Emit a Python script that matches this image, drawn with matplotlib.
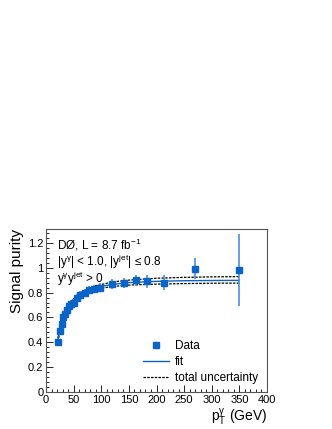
import matplotlib
matplotlib.use('Agg')
import matplotlib.pyplot as plt
from matplotlib.ticker import MultipleLocator, FuncFormatter
from matplotlib.lines import Line2D

plt.rcParams['font.family'] = ['Liberation Sans', 'DejaVu Sans']
plt.rcParams['mathtext.fontset'] = 'custom'
plt.rcParams['mathtext.rm'] = 'Liberation Sans'
plt.rcParams['mathtext.it'] = 'Liberation Sans'

# measured purity
pt = [22, 25, 28, 31, 34, 37, 41, 45, 50, 55, 62, 70, 78, 86, 98, 120, 141, 162, 183, 213, 270, 349]
purity = [0.40, 0.49, 0.55, 0.60, 0.63, 0.66, 0.69, 0.71, 0.72, 0.76, 0.78, 0.80, 0.82, 0.83, 0.84,
          0.87, 0.88, 0.90, 0.89, 0.88, 0.99, 0.98]
err = [0.03, 0.03, 0.03, 0.03, 0.03, 0.03, 0.03, 0.03, 0.03, 0.03, 0.03, 0.03, 0.03, 0.03, 0.035,
       0.04, 0.04, 0.045, 0.05, 0.06, 0.085, 0.29]

# fit and its uncertainty band
fit_x = [20, 23, 26, 30, 35, 40, 45, 50, 60, 70, 80, 90, 100, 120, 150, 200, 250, 300, 350]
fit_y = [0.39, 0.46, 0.52, 0.57, 0.63, 0.67, 0.705, 0.735, 0.775, 0.805, 0.825, 0.84, 0.85,
         0.865, 0.88, 0.89, 0.895, 0.897, 0.898]
fit_hi = [0.405, 0.475, 0.535, 0.585, 0.645, 0.685, 0.72, 0.75, 0.79, 0.82, 0.84, 0.855, 0.865,
          0.885, 0.9, 0.915, 0.922, 0.926, 0.928]
fit_lo = [0.375, 0.445, 0.505, 0.555, 0.615, 0.655, 0.69, 0.72, 0.76, 0.79, 0.81, 0.825, 0.835,
          0.848, 0.86, 0.868, 0.872, 0.875, 0.876]

blue = '#0a64c8'
light = '#4a90dc'

fig = plt.figure(figsize=(3.32, 4.29), dpi=100)
ax = fig.add_axes([0.139, 0.086, 0.665, 0.380])

ax.plot(fit_x, fit_hi, color='black', ls=(0, (2, 1)), lw=0.9, zorder=2)
ax.plot(fit_x, fit_lo, color='black', ls=(0, (2, 1)), lw=0.9, zorder=2)
ax.plot(fit_x, fit_y, color=blue, lw=1.0, zorder=3)
ax.errorbar(pt, purity, yerr=err, fmt='s', color=blue, ecolor=light, elinewidth=1.2,
            capsize=0, ms=4.5, zorder=4)

ax.set_xlim(0, 400)
ax.set_ylim(0, 1.31)
ax.xaxis.set_major_locator(MultipleLocator(50))
ax.xaxis.set_minor_locator(MultipleLocator(10))
ax.yaxis.set_major_locator(MultipleLocator(0.2))
ax.yaxis.set_minor_locator(MultipleLocator(0.04))
ax.yaxis.set_major_formatter(FuncFormatter(lambda v, p: '%g' % round(v, 2)))
ax.tick_params(which='both', direction='in', top=False, right=False, labelsize=8, pad=2)
ax.tick_params(which='major', length=5, width=0.6)
ax.tick_params(which='minor', length=2.5, width=0.6)
for s in ax.spines.values():
    s.set_linewidth(0.8)
    s.set_color('#555555')

ax.set_ylabel('Signal purity', fontsize=11, loc='top', labelpad=3)
ax.set_xlabel(r'p$_{\mathrm{T}}^{\gamma}$ (GeV)', fontsize=10, loc='right', labelpad=1)

ax.text(0.05, 0.955, r'DØ, L = 8.7 fb$^{-1}$', transform=ax.transAxes, fontsize=8.5, va='top')
ax.text(0.05, 0.855, r'|y$^{\gamma}$| < 1.0, |y$^{\mathrm{jet}}$| ≤ 0.8', transform=ax.transAxes,
        fontsize=8.5, va='top')
ax.text(0.05, 0.75, r'y$^{\gamma}$y$^{\mathrm{jet}}$ > 0', transform=ax.transAxes, fontsize=8.5, va='top')

handles = [Line2D([], [], marker='s', ls='none', color=blue, ms=4.5),
           Line2D([], [], color=blue, lw=1.0),
           Line2D([], [], color='black', ls=(0, (2, 1)), lw=0.9)]
ax.legend(handles, ['Data', 'fit', 'total uncertainty'], loc='lower left',
          bbox_to_anchor=(0.40, 0.0), frameon=False, fontsize=8.5, handlelength=2.2,
          labelspacing=0.32, handletextpad=0.5, borderaxespad=0.3)

fig.savefig('out.png', dpi=100)
